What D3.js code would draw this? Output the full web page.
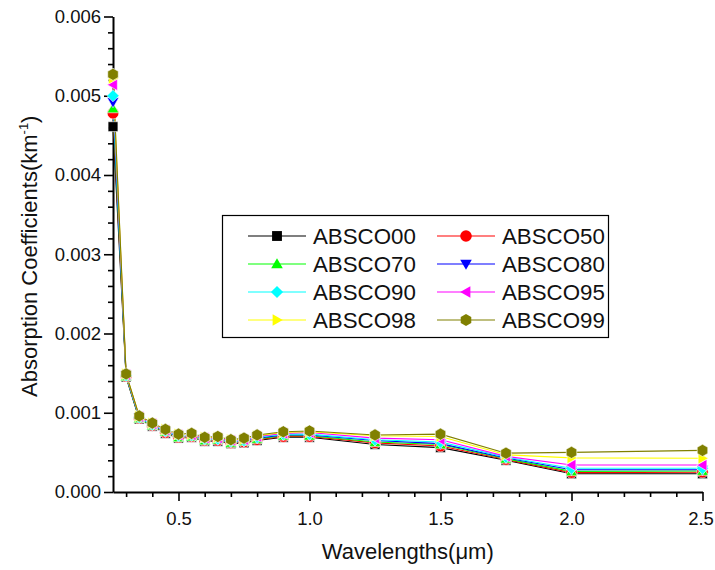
<!DOCTYPE html>
<html>
<head>
<meta charset="utf-8">
<script src="https://cdn.jsdelivr.net/npm/d3@7"></script>
<style>
  body { margin: 0; background: #fff; }
  svg { font-family: "Liberation Sans", Arial, sans-serif; }
</style>
</head>
<body>
<div id="chart"></div>
<script>
// wavelengths (um)
const wavelengths = [0.25, 0.3, 0.35, 0.4, 0.45, 0.5, 0.55, 0.6, 0.65, 0.7, 0.75, 0.8, 0.9, 1.0, 1.25, 1.5, 1.75, 2.0, 2.5];

// absorption coefficients (km^-1)
const absco00 = [0.00461, 0.00145, 0.00092, 0.00083, 0.00074, 0.00068, 0.00069, 0.00064, 0.00064, 0.00061, 0.00062, 0.00065, 0.00069, 0.00069, 0.00060, 0.00056, 0.00040, 0.00023, 0.00023];
const absco50 = [0.00478, 0.00146, 0.00093, 0.00084, 0.00075, 0.00069, 0.00070, 0.00065, 0.00065, 0.00062, 0.00063, 0.00066, 0.00070, 0.00070, 0.00062, 0.00058, 0.00041, 0.000245, 0.00025];
const absco70 = [0.00484, 0.00146, 0.00093, 0.00084, 0.00076, 0.00069, 0.00070, 0.00065, 0.00066, 0.00062, 0.00064, 0.00067, 0.00071, 0.00071, 0.00063, 0.00060, 0.00042, 0.00026, 0.000265];
const absco80 = [0.00492, 0.00147, 0.00094, 0.00085, 0.00076, 0.00070, 0.00071, 0.00066, 0.00066, 0.00063, 0.00064, 0.00068, 0.00072, 0.00072, 0.00065, 0.00061, 0.00043, 0.00028, 0.00028];
const absco90 = [0.00500, 0.00147, 0.00094, 0.00085, 0.00077, 0.00071, 0.00072, 0.00067, 0.00067, 0.00064, 0.00065, 0.00069, 0.00073, 0.00073, 0.00066, 0.00063, 0.00044, 0.00030, 0.00030];
const absco95 = [0.00514, 0.00148, 0.00095, 0.00086, 0.00078, 0.00072, 0.00072, 0.00068, 0.00068, 0.00065, 0.00066, 0.00070, 0.00074, 0.00075, 0.00068, 0.00066, 0.00045, 0.00034, 0.00034];
const absco98 = [0.00522, 0.00149, 0.00096, 0.00087, 0.00079, 0.00073, 0.00073, 0.00069, 0.00069, 0.00066, 0.00067, 0.00071, 0.00075, 0.00076, 0.00071, 0.00070, 0.00047, 0.00043, 0.000425];
const absco99 = [0.00527, 0.00149, 0.00096, 0.00087, 0.00079, 0.00073, 0.00074, 0.00069, 0.00070, 0.00066, 0.00068, 0.00072, 0.00076, 0.00077, 0.00072, 0.00073, 0.00049, 0.00050, 0.000525];

const seriesNames = ["ABSCO00", "ABSCO50", "ABSCO70", "ABSCO80", "ABSCO90", "ABSCO95", "ABSCO98", "ABSCO99"];
const seriesValues = [absco00, absco50, absco70, absco80, absco90, absco95, absco98, absco99];
const seriesColors = ["#000000", "#ff0000", "#00ff00", "#0000ff", "#00ffff", "#ff00ff", "#ffff00", "#808000"];
const seriesSymbols = ["square", "circle", "triUp", "triDown", "diamond", "triLeft", "triRight", "hexagon"];

const xTicks = [0.5, 1.0, 1.5, 2.0, 2.5];
const yTicks = [0, 0.001, 0.002, 0.003, 0.004, 0.005, 0.006];

const W = 715, H = 570;
const plotLeft = 113, plotRight = 702.5, plotTop = 16.5, plotBottom = 492;

const svg = d3.select("#chart").append("svg")
  .attr("width", W)
  .attr("height", H);

const x = d3.scaleLinear().domain([0.25, 2.5]).range([plotLeft, plotRight]);
const y = d3.scaleLinear().domain([0, 0.006]).range([plotBottom, plotTop]);

// minor ticks
const xMinor = d3.range(3, 25).map(d => d / 10).filter(d => !xTicks.some(t => Math.abs(t - d) < 1e-9));
const yMinor = d3.range(0, 31).map(d => d * 0.0002).filter(d => !yTicks.some(t => Math.abs(t - d) < 1e-9));

svg.append("g")
  .attr("transform", `translate(0,${plotBottom})`)
  .call(d3.axisBottom(x).tickValues(xMinor).tickSize(5).tickSizeOuter(0).tickFormat(""))
  .call(g => g.select(".domain").remove());

svg.append("g")
  .attr("transform", `translate(${plotLeft},0)`)
  .call(d3.axisLeft(y).tickValues(yMinor).tickSize(5).tickSizeOuter(0).tickFormat(""))
  .call(g => g.select(".domain").remove());

const xAxis = svg.append("g")
  .attr("transform", `translate(0,${plotBottom})`)
  .call(d3.axisBottom(x).tickValues(xTicks).tickSize(9).tickSizeOuter(0).tickPadding(11).tickFormat(d3.format(".1f")));

svg.append("g")
  .attr("transform", `translate(${plotLeft},0)`)
  .call(d3.axisLeft(y).tickValues(yTicks).tickSize(9).tickSizeOuter(0).tickPadding(3).tickFormat(d3.format(".3f")));

svg.selectAll(".tick line").attr("stroke", "#000").attr("stroke-width", 1.6);
svg.selectAll(".domain").attr("stroke", "#000").attr("stroke-width", 2);
svg.selectAll(".tick text")
  .attr("font-family", "'Liberation Sans', Arial, sans-serif")
  .attr("font-size", 18.5)
  .attr("fill", "#111");

// keep the last x label inside the page
xAxis.selectAll(".tick text").filter(d => d === 2.5).attr("dx", -2);

// axis titles
svg.append("text")
  .attr("x", (plotLeft + plotRight) / 2)
  .attr("y", 559)
  .attr("text-anchor", "middle")
  .attr("font-size", 22)
  .attr("fill", "#111")
  .text("Wavelengths(\u03bcm)");

const yTitle = svg.append("text")
  .attr("transform", `translate(37,${(plotTop + plotBottom) / 2 + 2}) rotate(-90)`)
  .attr("text-anchor", "middle")
  .attr("font-size", 22)
  .attr("fill", "#111");
yTitle.append("tspan").text("Absorption Coefficients(km");
yTitle.append("tspan").attr("font-size", 13).attr("dy", -9).text("-1");
yTitle.append("tspan").attr("dy", 9).text(")");

// symbol shapes
function symbolPath(kind, r) {
  switch (kind) {
    case "square": return `M${-r * 0.85},${-r * 0.85}h${r * 1.7}v${r * 1.7}h${-r * 1.7}Z`;
    case "circle": return d3.symbol(d3.symbolCircle, Math.PI * r * r)();
    case "triUp": return `M0,${-r}L${r},${r * 0.75}L${-r},${r * 0.75}Z`;
    case "triDown": return `M0,${r}L${r},${-r * 0.75}L${-r},${-r * 0.75}Z`;
    case "triLeft": return `M${-r},0L${r * 0.75},${-r}L${r * 0.75},${r}Z`;
    case "triRight": return `M${r},0L${-r * 0.75},${-r}L${-r * 0.75},${r}Z`;
    case "diamond": return `M0,${-r * 1.05}L${r * 1.05},0L0,${r * 1.05}L${-r * 1.05},0Z`;
    case "hexagon": {
      const pts = d3.range(6).map(i => {
        const a = Math.PI / 2 + i * Math.PI / 3;
        return [r * 1.05 * Math.cos(a), r * 1.05 * Math.sin(a)];
      });
      return "M" + pts.map(p => p.join(",")).join("L") + "Z";
    }
  }
}

const line = d3.line().x(d => x(d[0])).y(d => y(d[1]));

const series = seriesNames.map((name, i) => ({
  name,
  color: seriesColors[i],
  symbol: seriesSymbols[i],
  points: wavelengths.map((w, j) => [w, seriesValues[i][j]])
}));

// lines first, then symbols on top
svg.append("g").selectAll("path")
  .data(series).join("path")
  .attr("d", d => line(d.points))
  .attr("fill", "none")
  .attr("stroke", d => d.color)
  .attr("stroke-width", 1.1);

series.forEach(s => {
  svg.append("g").selectAll("path")
    .data(s.points).join("path")
    .attr("transform", d => `translate(${x(d[0])},${y(d[1])})`)
    .attr("d", symbolPath(s.symbol, 5.8))
    .attr("fill", s.color)
    .attr("stroke", "#fff")
    .attr("stroke-width", 0.6);
});

// legend
const lg = svg.append("g");
lg.append("rect")
  .attr("x", 222.5).attr("y", 215.5)
  .attr("width", 386).attr("height", 122)
  .attr("fill", "#fff")
  .attr("stroke", "#000")
  .attr("stroke-width", 1.2);

const colX = [248, 437];
const rowY = [236, 264, 292, 320];
series.forEach((s, i) => {
  const cx = colX[i % 2], cy = rowY[Math.floor(i / 2)];
  lg.append("line")
    .attr("x1", cx).attr("x2", cx + 58)
    .attr("y1", cy).attr("y2", cy)
    .attr("stroke", s.color).attr("stroke-width", 1.2);
  lg.append("path")
    .attr("transform", `translate(${cx + 29},${cy})`)
    .attr("d", symbolPath(s.symbol, 5.8))
    .attr("fill", s.color);
  lg.append("text")
    .attr("x", cx + 65).attr("y", cy + 8)
    .attr("font-size", 22.3)
    .attr("fill", "#111")
    .text(s.name);
});
</script>
</body>
</html>
